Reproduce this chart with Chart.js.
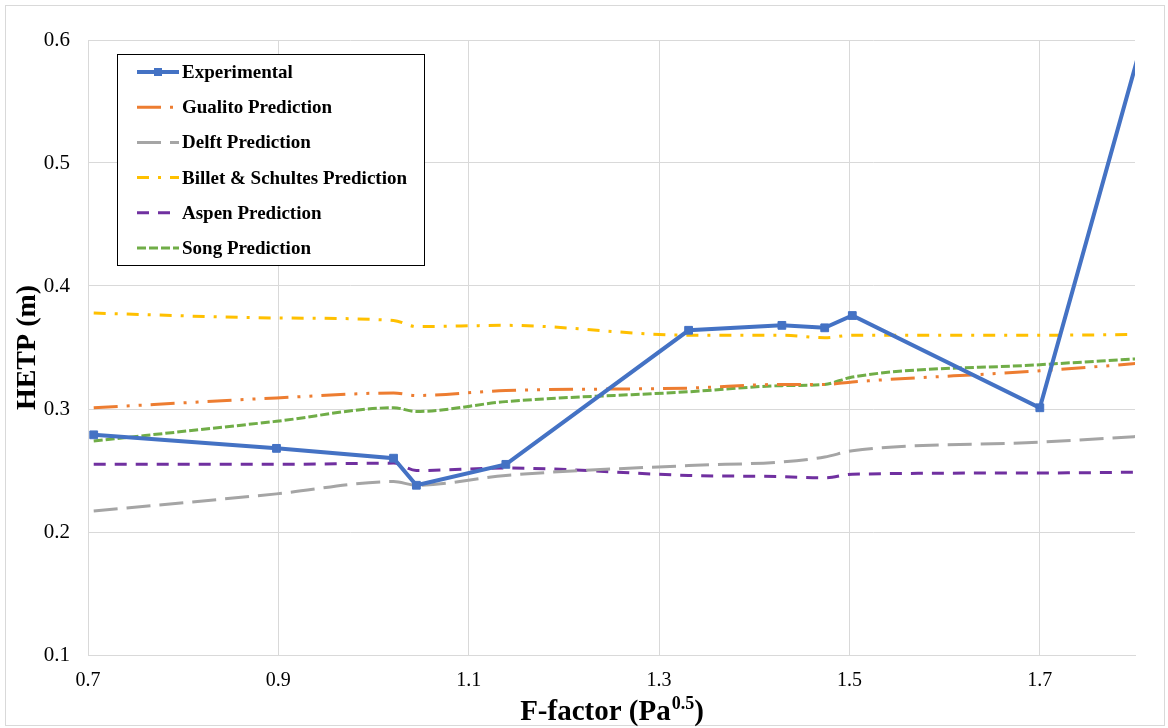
<!DOCTYPE html>
<html>
<head>
<meta charset="utf-8">
<script src="https://cdn.jsdelivr.net/npm/chart.js@4.4.1/dist/chart.umd.min.js"></script>
<style>
  body { margin: 0; background: #fff; }
  canvas { display: block; }
</style>
</head>
<body>
<canvas id="hetpChart" width="1168" height="728"></canvas>
<script>
// F-factor values (Pa^0.5) and HETP (m) for each series
const fFactor = [0.706, 0.898, 1.021, 1.045, 1.139, 1.331, 1.429, 1.474, 1.503, 1.700, 1.85];
const experimental = [0.279, 0.268, 0.260, 0.238, 0.255, 0.364, 0.368, 0.366, 0.376, 0.301, 0.716];
const gualito = [0.301, 0.309, 0.313, 0.311, 0.315, 0.317, 0.320, 0.320, 0.322, 0.331, 0.340];
const delft = [0.217, 0.231, 0.241, 0.238, 0.246, 0.254, 0.257, 0.261, 0.266, 0.273, 0.280];
const billet = [0.378, 0.374, 0.372, 0.367, 0.368, 0.360, 0.360, 0.358, 0.360, 0.360, 0.361];
const aspen = [0.255, 0.255, 0.256, 0.250, 0.252, 0.246, 0.245, 0.244, 0.247, 0.248, 0.249];
const song = [0.274, 0.290, 0.301, 0.298, 0.306, 0.314, 0.319, 0.320, 0.326, 0.336, 0.343];

const xTicks = [0.7, 0.9, 1.1, 1.3, 1.5, 1.7];
const seriesLabels = ['Experimental', 'Gualito Prediction', 'Delft Prediction',
  'Billet & Schultes Prediction', 'Aspen Prediction', 'Song Prediction'];

const serif = '"Liberation Serif", "Times New Roman", serif';
const gridColor = '#d9d9d9';

const pts = ys => ys.map((y, i) => ({ x: fFactor[i], y: y }));

function predSet(label, ys, color, dash) {
  return {
    label: label,
    data: pts(ys),
    borderColor: color,
    borderWidth: 3,
    borderDash: dash,
    pointRadius: 0,
    cubicInterpolationMode: 'monotone',
    fill: false
  };
}

const datasets = [
  {
    label: seriesLabels[0],
    data: pts(experimental),
    borderColor: '#4472c4',
    backgroundColor: '#4472c4',
    borderWidth: 4,
    pointStyle: 'rect',
    pointRadius: 5.5,
    pointBorderWidth: 1,
    tension: 0,
    fill: false
  },
  predSet(seriesLabels[1], gualito, '#ed7d31', [24, 9, 3, 9, 3, 9]),
  predSet(seriesLabels[2], delft, '#a5a5a5', [24, 9]),
  predSet(seriesLabels[3], billet, '#ffc000', [12, 9, 3, 9]),
  predSet(seriesLabels[4], aspen, '#7030a0', [12, 9]),
  predSet(seriesLabels[5], song, '#70ad47', [9, 3])
];

// white background and thin outer frame
const frame = {
  id: 'frame',
  beforeDraw(chart) {
    const ctx = chart.ctx;
    ctx.save();
    ctx.fillStyle = '#fff';
    ctx.fillRect(0, 0, chart.width, chart.height);
    ctx.strokeStyle = gridColor;
    ctx.lineWidth = 1;
    ctx.strokeRect(5.5, 5.5, 1159, 720);
    ctx.restore();
  }
};

// x-axis title with superscript exponent
const xTitle = {
  id: 'xTitle',
  afterDraw(chart) {
    const ctx = chart.ctx;
    const area = chart.chartArea;
    const main = 'F-factor (Pa', sup = '0.5', close = ')';
    ctx.save();
    ctx.fillStyle = '#000';
    ctx.textBaseline = 'alphabetic';
    ctx.font = 'bold 29px ' + serif;
    const w1 = ctx.measureText(main).width;
    const w3 = ctx.measureText(close).width;
    ctx.font = 'bold 18px ' + serif;
    const w2 = ctx.measureText(sup).width;
    let x = (area.left + area.right) / 2 - (w1 + w2 + w3) / 2;
    const base = 720;
    ctx.font = 'bold 29px ' + serif;
    ctx.fillText(main, x, base);
    x += w1;
    ctx.font = 'bold 18px ' + serif;
    ctx.fillText(sup, x + 1, base - 11);
    x += w2 + 1;
    ctx.font = 'bold 29px ' + serif;
    ctx.fillText(close, x, base);
    ctx.restore();
  }
};

// boxed legend drawn inside the plot area
const boxLegend = {
  id: 'boxLegend',
  afterDraw(chart) {
    const ctx = chart.ctx;
    ctx.save();
    ctx.fillStyle = '#fff';
    ctx.fillRect(117.5, 54.5, 307, 211);
    ctx.strokeStyle = '#000';
    ctx.lineWidth = 1;
    ctx.strokeRect(117.5, 54.5, 307, 211);
    chart.data.datasets.forEach((ds, i) => {
      const y = 72 + i * 35.2;
      ctx.strokeStyle = ds.borderColor;
      ctx.lineWidth = ds.borderWidth;
      ctx.setLineDash(ds.borderDash || []);
      ctx.beginPath();
      ctx.moveTo(137, y);
      ctx.lineTo(179, y);
      ctx.stroke();
      ctx.setLineDash([]);
      if (ds.pointStyle === 'rect') {
        ctx.fillStyle = ds.backgroundColor;
        ctx.fillRect(154, y - 4, 8, 8);
      }
      ctx.fillStyle = '#000';
      ctx.font = 'bold 19px ' + serif;
      ctx.textBaseline = 'middle';
      ctx.fillText(ds.label, 182, y + 1);
    });
    ctx.restore();
  }
};

new Chart(document.getElementById('hetpChart'), {
  type: 'line',
  data: { datasets: datasets },
  options: {
    responsive: false,
    animation: false,
    layout: { padding: { top: 40, right: 33, bottom: 0, left: 0 } },
    plugins: { legend: { display: false }, tooltip: { enabled: false } },
    scales: {
      x: {
        type: 'linear',
        min: 0.7,
        max: 1.8,
        afterBuildTicks: s => { s.ticks = xTicks.map(v => ({ value: v })); },
        afterFit: s => { s.height = 73; },
        grid: { color: gridColor, drawTicks: false },
        border: { color: gridColor },
        ticks: {
          padding: 14,
          color: '#000',
          font: { family: serif, size: 20 },
          callback: v => v.toFixed(1)
        }
      },
      y: {
        min: 0.1,
        max: 0.6,
        afterFit: s => { s.width = 88; },
        grid: { color: gridColor, drawTicks: false },
        border: { color: gridColor },
        ticks: {
          stepSize: 0.1,
          padding: 18,
          color: '#000',
          font: { family: serif, size: 21 },
          callback: v => v.toFixed(1)
        },
        title: {
          display: true,
          text: 'HETP (m)',
          color: '#000',
          font: { family: serif, size: 28, weight: 'bold' },
          padding: { top: 11, bottom: 0 }
        }
      }
    }
  },
  plugins: [frame, xTitle, boxLegend]
});
</script>
</body>
</html>
